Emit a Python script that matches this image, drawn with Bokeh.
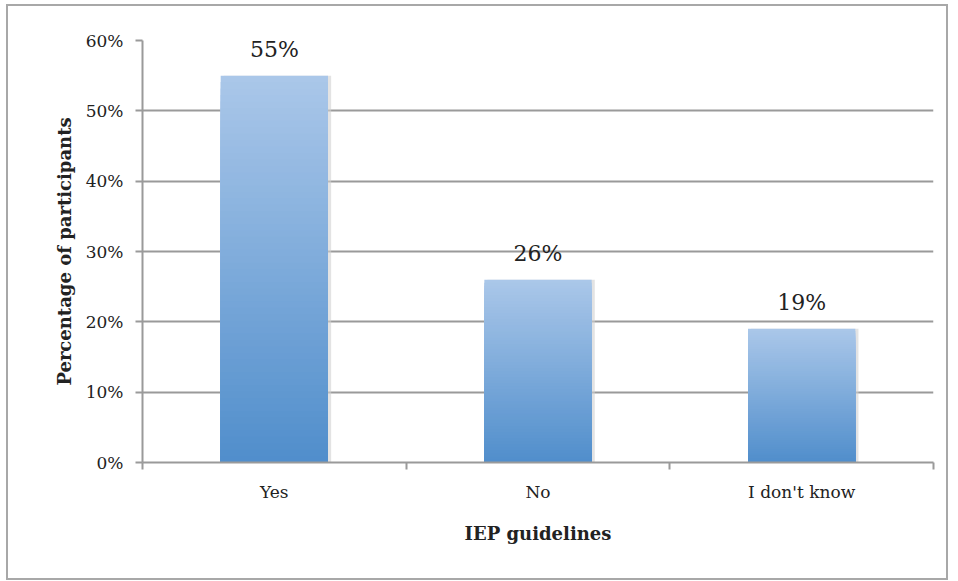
from bokeh.plotting import figure
from bokeh.models import FixedTicker, NumeralTickFormatter, Range1d, ColumnDataSource
from bokeh.core.properties import value
from bokeh.embed import file_html
from bokeh.resources import INLINE

categories = ["Yes", "No", "I don't know"]
shares = [0.55, 0.26, 0.19]
bar_labels = ["55%", "26%", "19%"]
y_ticks = [0.0, 0.1, 0.2, 0.3, 0.4, 0.5, 0.6]
y_title = "Percentage of participants"
x_title = "IEP guidelines"

FONT = "DejaVu Serif"
TOP_RGB = (170, 199, 233)
BOT_RGB = (79, 141, 203)
N_STEPS = 60

xs = [i + 0.5 for i in range(len(categories))]

p = figure(width=942, height=576, output_backend="svg", toolbar_location=None,
           x_range=Range1d(0, len(categories)), y_range=Range1d(0, 0.6),
           min_border_left=134, min_border_right=17, min_border_top=34, min_border_bottom=120)
p.styles = {"border": "2px solid #a8a8a8", "margin": "4px 0 0 6px"}
p.outline_line_color = None
p.background_fill_color = "white"
p.border_fill_color = "white"

# gradient bars: stacked from tallest (light) to shortest (dark)
gx, gtop, gcol = [], [], []
for k in range(N_STEPS):
    f = (N_STEPS - k) / N_STEPS
    r = round(BOT_RGB[0] + (TOP_RGB[0] - BOT_RGB[0]) * f)
    g = round(BOT_RGB[1] + (TOP_RGB[1] - BOT_RGB[1]) * f)
    b = round(BOT_RGB[2] + (TOP_RGB[2] - BOT_RGB[2]) * f)
    c = "#%02x%02x%02x" % (r, g, b)
    for x, v in zip(xs, shares):
        gx.append(x)
        gtop.append(v * f)
        gcol.append(c)

# soft shadow
p.vbar(x=[x + 0.012 for x in xs], top=shares, bottom=0, width=0.407,
       fill_color="#d0d0d0", fill_alpha=0.6, line_color=None)
src = ColumnDataSource(dict(x=gx, top=gtop, color=gcol))
p.vbar(x="x", top="top", bottom=0, width=0.407, fill_color="color", line_color=None, source=src)

p.text(x=xs, y=shares, text=bar_labels, text_align="center", text_baseline="bottom",
       y_offset=-14, text_font=value(FONT), text_font_size="22px", text_color="#222222")

# axes
p.yaxis.ticker = FixedTicker(ticks=y_ticks)
p.yaxis.formatter = NumeralTickFormatter(format="0%")
p.yaxis.major_tick_out = 7
p.yaxis.major_tick_in = 0
p.yaxis.minor_tick_out = 0
p.yaxis.minor_tick_in = 0
p.yaxis.major_tick_line_color = "#9a9a9a"
p.yaxis.major_tick_line_width = 2
p.yaxis.axis_line_color = "#9a9a9a"
p.yaxis.axis_line_width = 2
p.yaxis.major_label_text_font = FONT
p.yaxis.major_label_text_font_size = "17px"
p.yaxis.major_label_text_color = "#222222"
p.yaxis.major_label_standoff = 12
p.yaxis.axis_label = y_title
p.yaxis.axis_label_text_font = FONT
p.yaxis.axis_label_text_font_size = "18px"
p.yaxis.axis_label_text_font_style = "bold"
p.yaxis.axis_label_text_color = "#222222"
p.yaxis.axis_label_standoff = 8

p.xaxis.ticker = FixedTicker(ticks=xs, minor_ticks=list(range(len(categories) + 1)))
p.xaxis.major_label_overrides = {x: c for x, c in zip(xs, categories)}
p.xaxis.major_tick_out = 0
p.xaxis.major_tick_in = 0
p.xaxis.minor_tick_out = 7
p.xaxis.minor_tick_in = 0
p.xaxis.minor_tick_line_color = "#9a9a9a"
p.xaxis.minor_tick_line_width = 2
p.xaxis.axis_line_color = "#9a9a9a"
p.xaxis.axis_line_width = 2
p.xaxis.major_label_text_font = FONT
p.xaxis.major_label_text_font_size = "17px"
p.xaxis.major_label_text_color = "#222222"
p.xaxis.major_label_standoff = 12
p.xaxis.axis_label = x_title
p.xaxis.axis_label_text_font = FONT
p.xaxis.axis_label_text_font_size = "18px"
p.xaxis.axis_label_text_font_style = "bold"
p.xaxis.axis_label_text_color = "#222222"
p.xaxis.axis_label_standoff = 18

p.xgrid.grid_line_color = None
p.ygrid.ticker = FixedTicker(ticks=y_ticks)
p.ygrid.grid_line_color = "#9a9a9a"
p.ygrid.grid_line_width = 2

open("out.html", "w").write(file_html(p, INLINE))
